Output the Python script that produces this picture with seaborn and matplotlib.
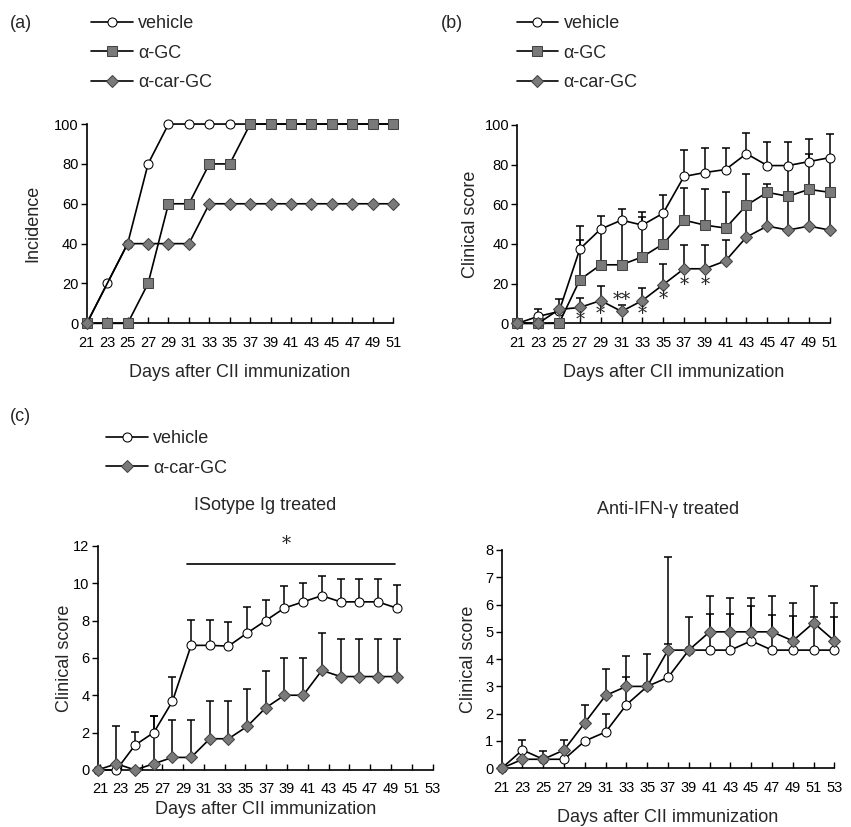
import numpy as np
import matplotlib
matplotlib.use("Agg")
import matplotlib.pyplot as plt
import seaborn as sns

sns.set_theme(style="ticks")
plt.rcParams['font.family'] = ['Liberation Sans', 'DejaVu Sans']

# ---- data ----
days_ab = np.arange(21, 52, 2)
days_c = np.arange(21, 54, 2)

# (a) incidence
veh_a = [0, 20, 40, 80, 100, 100, 100, 100, 100, 100, 100, 100, 100, 100, 100, 100]
agc_a = [0, 0, 0, 20, 60, 60, 80, 80, 100, 100, 100, 100, 100, 100, 100, 100]
car_a = [0, 20, 40, 40, 40, 40, 60, 60, 60, 60, 60, 60, 60, 60, 60, 60]

# (b) clinical score, mean and top of error bar
veh_b = [0, 3.5, 6, 37.5, 47.5, 52, 49.5, 55.5, 74, 76, 77.5, 85.5, 79.5, 79.5, 81.5, 83.5]
veh_b_top = [0, 7, 12.5, 49, 54, 57.5, 56, 64.5, 87.5, 88.5, 88.5, 96, 91.5, 91.5, 93, 95.5]
agc_b = [0, 0, 0, 22, 29.5, 29.5, 33.5, 40, 52, 49.5, 48, 59.5, 66, 64, 67.5, 66]
agc_b_top = [0, 0, 0, 42, 47, 51, 53.5, 55, 68, 67.5, 66, 75, 70, 79, 85.5, 83]
car_b = [0, 0, 7, 8, 11.5, 6, 11.5, 19.5, 27.5, 27.5, 31.5, 43.5, 49, 47, 49, 47]
car_b_top = [0, 0, 0, 13, 19, 9.5, 18, 29.8, 39.7, 39.7, 42, 58, 64, 62, 66, 64]
sig_b_days = [27, 29, 31, 33, 35, 37, 39]
sig_b_marks = ['*', '*', '**', '*', '*', '*', '*']
sig_b_y = [1.5, 4.5, 12, 4.5, 12.5, 19.5, 19.5]

# (c) isotype Ig treated
veh_c1 = [0, 0, 1.33, 2.0, 3.67, 6.67, 6.67, 6.63, 7.33, 8.0, 8.67, 9.0, 9.33, 9.0, 9.0, 9.0, 8.67]
veh_c1_top = [0, 0, 2.05, 2.87, 5.0, 8.03, 8.03, 7.9, 8.7, 9.1, 9.85, 10.03, 10.4, 10.2, 10.2, 10.2, 9.9]
car_c1 = [0, 0.33, 0, 0.33, 0.67, 0.67, 1.67, 1.67, 2.33, 3.33, 4.0, 4.0, 5.33, 5.0, 5.0, 5.0, 5.0]
car_c1_top = [0, 2.33, 0, 2.9, 2.67, 2.67, 3.67, 3.67, 4.33, 5.3, 5.97, 5.97, 7.33, 7.0, 7.0, 7.0, 7.0]
sig_c1_span = (30.6, 52.8)
sig_c1_star = 41.2

# (c) anti-IFN-gamma treated
veh_c2 = [0, 0.67, 0.33, 0.33, 1.0, 1.33, 2.33, 3.0, 3.33, 4.33, 4.33, 4.33, 4.67, 4.33, 4.33, 4.33, 4.33]
veh_c2_top = [0, 1.05, 0, 0, 0, 2.0, 3.35, 0, 4.57, 5.55, 5.67, 5.67, 5.95, 5.6, 5.57, 5.53, 5.53]
car_c2 = [0, 0.33, 0.33, 0.67, 1.67, 2.67, 3.0, 3.0, 4.33, 4.33, 5.0, 5.0, 5.0, 5.0, 4.67, 5.33, 4.67]
car_c2_top = [0, 0, 0.62, 1.05, 2.33, 3.63, 4.12, 4.17, 7.75, 0, 6.33, 6.25, 6.25, 6.3, 6.07, 6.67, 6.07]

GRAY = '#7a7a7a'
styles = {
    'vehicle': dict(marker='o', markerfacecolor='white', markeredgecolor='black', markersize=6.5),
    'α-GC': dict(marker='s', markerfacecolor=GRAY, markeredgecolor='#444444', markersize=6.5),
    'α-car-GC': dict(marker='D', markerfacecolor=GRAY, markeredgecolor='#444444', markersize=6),
}

fig = plt.figure(figsize=(8.51, 8.27), dpi=100)


def series(ax, x, y, name, top=None, **kw):
    x = np.asarray(x, float)
    y = np.asarray(y, float)
    if top is not None:
        top = np.asarray(top, float)
        m = top > y
        ax.errorbar(x[m], y[m], yerr=[np.zeros(m.sum()), top[m] - y[m]], fmt='none',
                    ecolor='black', elinewidth=1.1, capsize=3, capthick=1.1, zorder=1, clip_on=False)
    sns.lineplot(x=x, y=y, ax=ax, color='black', linewidth=1.2, label=name,
                 clip_on=False, zorder=3, **styles[name], **kw)


def style_axis(ax, ylim, yticks, xticks, xlabels, xlim, ylabel, xlp=10, ylp=4):
    ax.set_xlim(*xlim)
    ax.set_ylim(*ylim)
    ax.set_yticks(yticks)
    ax.set_xticks(xticks)
    ax.set_xticklabels(xlabels)
    sns.despine(ax=ax)
    for s in ax.spines.values():
        s.set_linewidth(1.2)
        s.set_color('black')
    ax.tick_params(axis='x', direction='in', length=4, width=1, pad=9, labelsize=10.5, colors='black')
    ax.tick_params(axis='y', direction='out', length=4, width=1, pad=2, labelsize=10.5, colors='black')
    ax.set_xlabel('Days after CII immunization', fontsize=13, labelpad=xlp)
    ax.set_ylabel(ylabel, fontsize=13, labelpad=ylp)
    ax.grid(False)


def legend(ax, anchor):
    ax.legend(loc='upper left', bbox_to_anchor=anchor, bbox_transform=fig.transFigure,
              frameon=False, fontsize=13, handlelength=2.3, handletextpad=0.3,
              labelspacing=0.7, borderaxespad=0, borderpad=0)


# (a)
ax_a = fig.add_axes([0.102, 0.609, 0.360, 0.241])
series(ax_a, days_ab, veh_a, 'vehicle')
series(ax_a, days_ab, agc_a, 'α-GC')
# diamond at day 23 sits under the vehicle circle in the original
series(ax_a, days_ab, car_a, 'α-car-GC', markevery=[0] + list(range(2, len(days_ab))))
style_axis(ax_a, (0, 100), range(0, 101, 20), days_ab, days_ab, (21, 51), 'Incidence', ylp=9)
legend(ax_a, (0.107, 0.982))
fig.text(0.012, 0.972, '(a)', fontsize=13, va='center')

# (b)
ax_b = fig.add_axes([0.608, 0.609, 0.367, 0.240])
series(ax_b, days_ab, veh_b, 'vehicle', veh_b_top)
series(ax_b, days_ab, agc_b, 'α-GC', agc_b_top)
series(ax_b, days_ab, car_b, 'α-car-GC', car_b_top)
for d, t, yv in zip(sig_b_days, sig_b_marks, sig_b_y):
    ax_b.text(d, yv, t, ha='center', va='center', fontsize=13, family='DejaVu Serif')
style_axis(ax_b, (0, 100), range(0, 101, 20), days_ab, days_ab, (21, 51), 'Clinical score')
legend(ax_b, (0.607, 0.982))
fig.text(0.518, 0.972, '(b)', fontsize=13, va='center')

# (c) left: tick labels drift against the data in the original
ax_c1 = fig.add_axes([0.1148, 0.069, 0.394, 0.271])
series(ax_c1, days_c, veh_c1, 'vehicle', veh_c1_top)
series(ax_c1, days_c, car_c1, 'α-car-GC', car_c1_top)
c1_tickpos = 21.25 + (days_c - 21) * 1.1125
style_axis(ax_c1, (0, 12), range(0, 13, 2), c1_tickpos, days_c, (21, 56.9), 'Clinical score',
           xlp=3, ylp=0)
ax_c1.plot(sig_c1_span, [11, 11], color='black', linewidth=1.2)
ax_c1.text(sig_c1_star, 12.1, '*', ha='center', va='center', fontsize=13, family='DejaVu Serif')
ax_c1.set_title('ISotype Ig treated', fontsize=13, pad=26)
legend(ax_c1, (0.125, 0.480))
fig.text(0.012, 0.496, '(c)', fontsize=13, va='center')

# (c) right
ax_c2 = fig.add_axes([0.5895, 0.071, 0.391, 0.264])
series(ax_c2, days_c, veh_c2, 'vehicle', veh_c2_top)
series(ax_c2, days_c, car_c2, 'α-car-GC', car_c2_top)
style_axis(ax_c2, (0, 8), range(0, 9), days_c, days_c, (21, 53), 'Clinical score', ylp=6)
ax_c2.set_title('Anti-IFN-γ treated', fontsize=13, pad=26)
ax_c2.get_legend().remove()

fig.savefig('out.png', dpi=100)
